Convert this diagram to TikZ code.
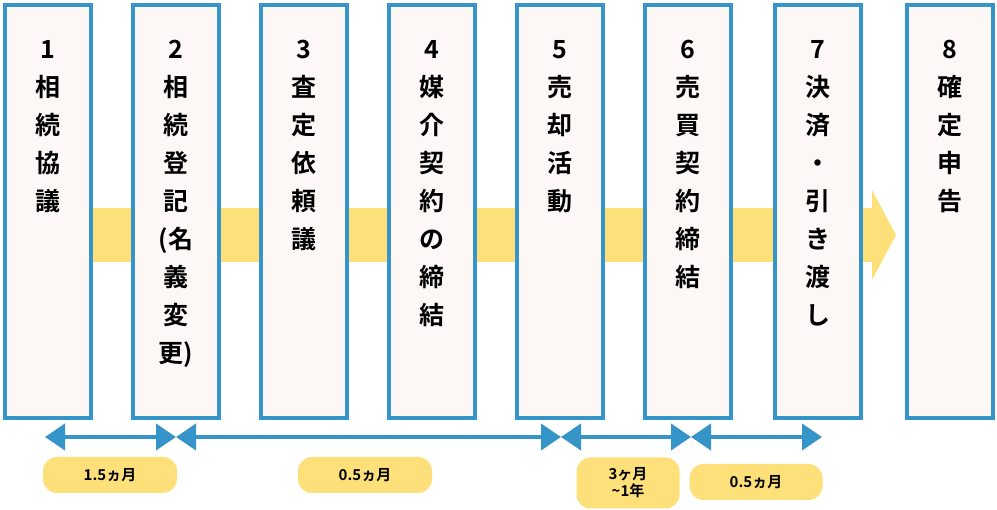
\documentclass[tikz,border=0pt]{standalone}
\usepackage{fontspec}
\newfontfamily\jp{Noto Sans CJK JP Bold}
\usetikzlibrary{arrows.meta}
\definecolor{bl}{HTML}{3594C8}
\definecolor{yl}{HTML}{FDE07A}
\definecolor{bx}{HTML}{FDF8F5}
\tikzset{stepbox/.style={draw=bl,line width=4.5pt,fill=bx,minimum width=86pt,minimum height=413pt,inner sep=0pt},
lab/.style={font=\jp\fontsize{25}{38}\selectfont,align=center,anchor=north,inner sep=0pt},
pill/.style={fill=yl,rounded corners=14pt,font=\jp\fontsize{15}{17}\selectfont,align=center,inner sep=0pt},
dur/.style={bl,line width=4pt,{Triangle[width=26pt,length=20pt]}-{Triangle[width=26pt,length=20pt]}}}
\begin{document}
\begin{tikzpicture}[x=1pt,y=-1pt]
\useasboundingbox (0,0) rectangle (997,510);
\fill[yl] (93,208) rectangle (872,262);
\fill[yl] (872,190) -- (896,235) -- (872,280) -- cycle;
\foreach \n/\x/\t in {1/48/{1\\相\\続\\協\\議},2/176/{2\\相\\続\\登\\記\\(名\\義\\変\\更)},3/304/{3\\査\\定\\依\\頼\\議},4/432/{4\\媒\\介\\契\\約\\の\\締\\結},5/560/{5\\売\\却\\活\\動},6/688/{6\\売\\買\\契\\約\\締\\結},7/818/{7\\決\\済\\・\\引\\き\\渡\\し},8/950/{8\\確\\定\\申\\告}}{
\node[stepbox] (b\n) at (\x,211.5) {};
\node[lab] (t\n) at (\x,40) {\t};
}
\coordinate (a0) at (45,437); \coordinate (a1) at (176,437);
\coordinate (a2) at (561,437); \coordinate (a3) at (691,437); \coordinate (a4) at (822,437);
\draw[dur] (a0) -- (a1);
\draw[dur] (a1) -- (a2);
\draw[dur] (a2) -- (a3);
\draw[dur] (a3) -- (a4);
\node[pill,minimum width=134pt,minimum height=36pt] (p1) at (110,475) {1.5ヵ月};
\node[pill,minimum width=134pt,minimum height=36pt] (p2) at (365,475) {0.5ヵ月};
\node[pill,minimum width=103pt,minimum height=51pt] (p3) at (628,483) {3ヶ月\\\textasciitilde1年};
\node[pill,minimum width=133pt,minimum height=36pt] (p4) at (756,482) {0.5ヵ月};
\end{tikzpicture}
\end{document}
